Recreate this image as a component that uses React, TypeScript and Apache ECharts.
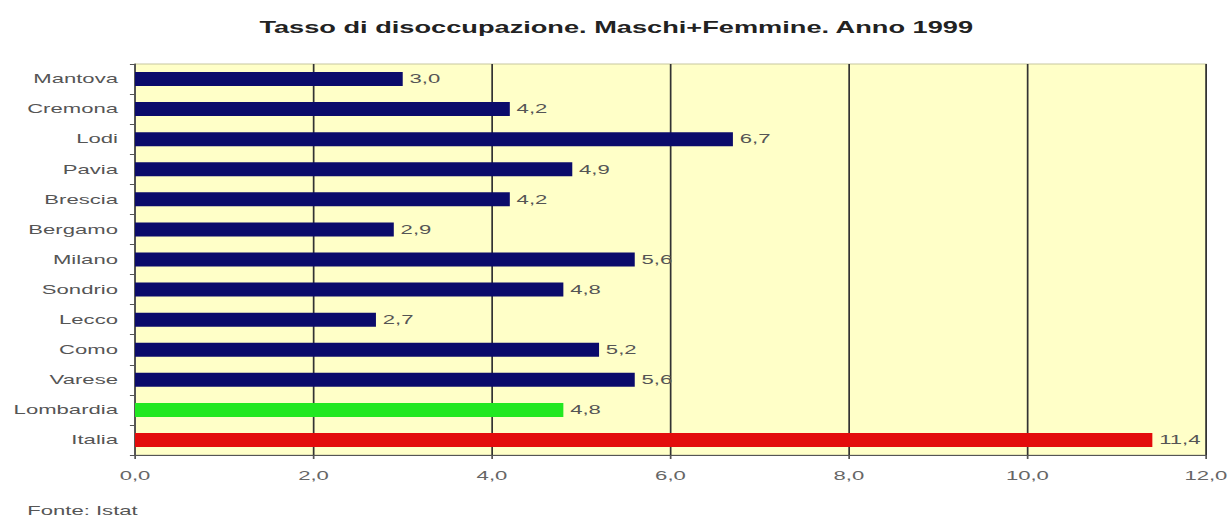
import React, { useEffect, useRef } from "react";
import * as echarts from "echarts";

const categories = ["Mantova", "Cremona", "Lodi", "Pavia", "Brescia", "Bergamo", "Milano", "Sondrio", "Lecco", "Como", "Varese", "Lombardia", "Italia"];
const values = [3.0, 4.2, 6.7, 4.9, 4.2, 2.9, 5.6, 4.8, 2.7, 5.2, 5.6, 4.8, 11.4];
const barColors = ["#0b0b6b", "#0b0b6b", "#0b0b6b", "#0b0b6b", "#0b0b6b", "#0b0b6b", "#0b0b6b", "#0b0b6b", "#0b0b6b", "#0b0b6b", "#0b0b6b", "#22e822", "#e30c0c"];
const titleText = "Tasso di disoccupazione. Maschi+Femmine. Anno 1999";
const sourceText = "Fonte: Istat";

const fmt = (v: number) => v.toFixed(1).replace(".", ",");

// The reference is horizontally stretched; draw narrower and stretch.
const STRETCH = 1.7;
const OUT_W = 1232;
const OUT_H = 518;
const W = OUT_W / STRETCH;

export default function App() {
  const ref = useRef<HTMLDivElement>(null);
  useEffect(() => {
    if (!ref.current) return;
    const chart = echarts.init(ref.current, null, { renderer: "svg" });
    const font = "'Liberation Sans', Arial, sans-serif";
    chart.setOption({
      animation: false,
      backgroundColor: "#ffffff",
      title: {
        text: titleText,
        left: "center",
        top: 15,
        textStyle: { fontFamily: font, fontSize: 16, fontWeight: "bold", color: "#222" },
      },
      graphic: [
        { type: "text", left: 16, top: 504, style: { text: sourceText, fontFamily: font, fontSize: 13, fill: "#555" } },
      ],
      grid: {
        left: 135 / STRETCH,
        right: 25 / STRETCH,
        top: 64,
        bottom: 63,
        show: true,
        backgroundColor: "#ffffc8",
        borderColor: "#c8c8a0",
        borderWidth: 1,
      },
      xAxis: {
        type: "value",
        min: 0,
        max: 12,
        interval: 2,
        axisLine: { show: true, lineStyle: { color: "#555" } },
        axisTick: { show: true, length: 4, lineStyle: { color: "#555" } },
        axisLabel: { formatter: (v: number) => fmt(v), fontFamily: font, fontSize: 13, color: "#666", margin: 14 },
        splitLine: { show: true, lineStyle: { color: "#333", width: 1 } },
      },
      yAxis: {
        type: "category",
        data: categories,
        inverse: true,
        axisLine: { show: true, lineStyle: { color: "#555" } },
        axisTick: { show: true, length: 3, alignWithLabel: false, lineStyle: { color: "#555" } },
        axisLabel: { fontFamily: font, fontSize: 13, color: "#555", margin: 10 },
      },
      series: [
        {
          type: "bar",
          data: values.map((v, i) => ({ value: v, itemStyle: { color: barColors[i] } })),
          barWidth: 14,
          label: {
            show: true,
            position: "right",
            distance: 4,
            formatter: (p: any) => fmt(p.value),
            fontFamily: font,
            fontSize: 13,
            color: "#555",
          },
        },
      ],
    });
    return () => chart.dispose();
  }, []);
  return (
    <div style={{ position: "absolute", left: 0, top: 0, width: OUT_W, height: OUT_H, overflow: "hidden", background: "#fff" }}>
      <div
        ref={ref}
        style={{ width: W, height: OUT_H, transform: `scaleX(${STRETCH})`, transformOrigin: "0 0" }}
      />
    </div>
  );
}
